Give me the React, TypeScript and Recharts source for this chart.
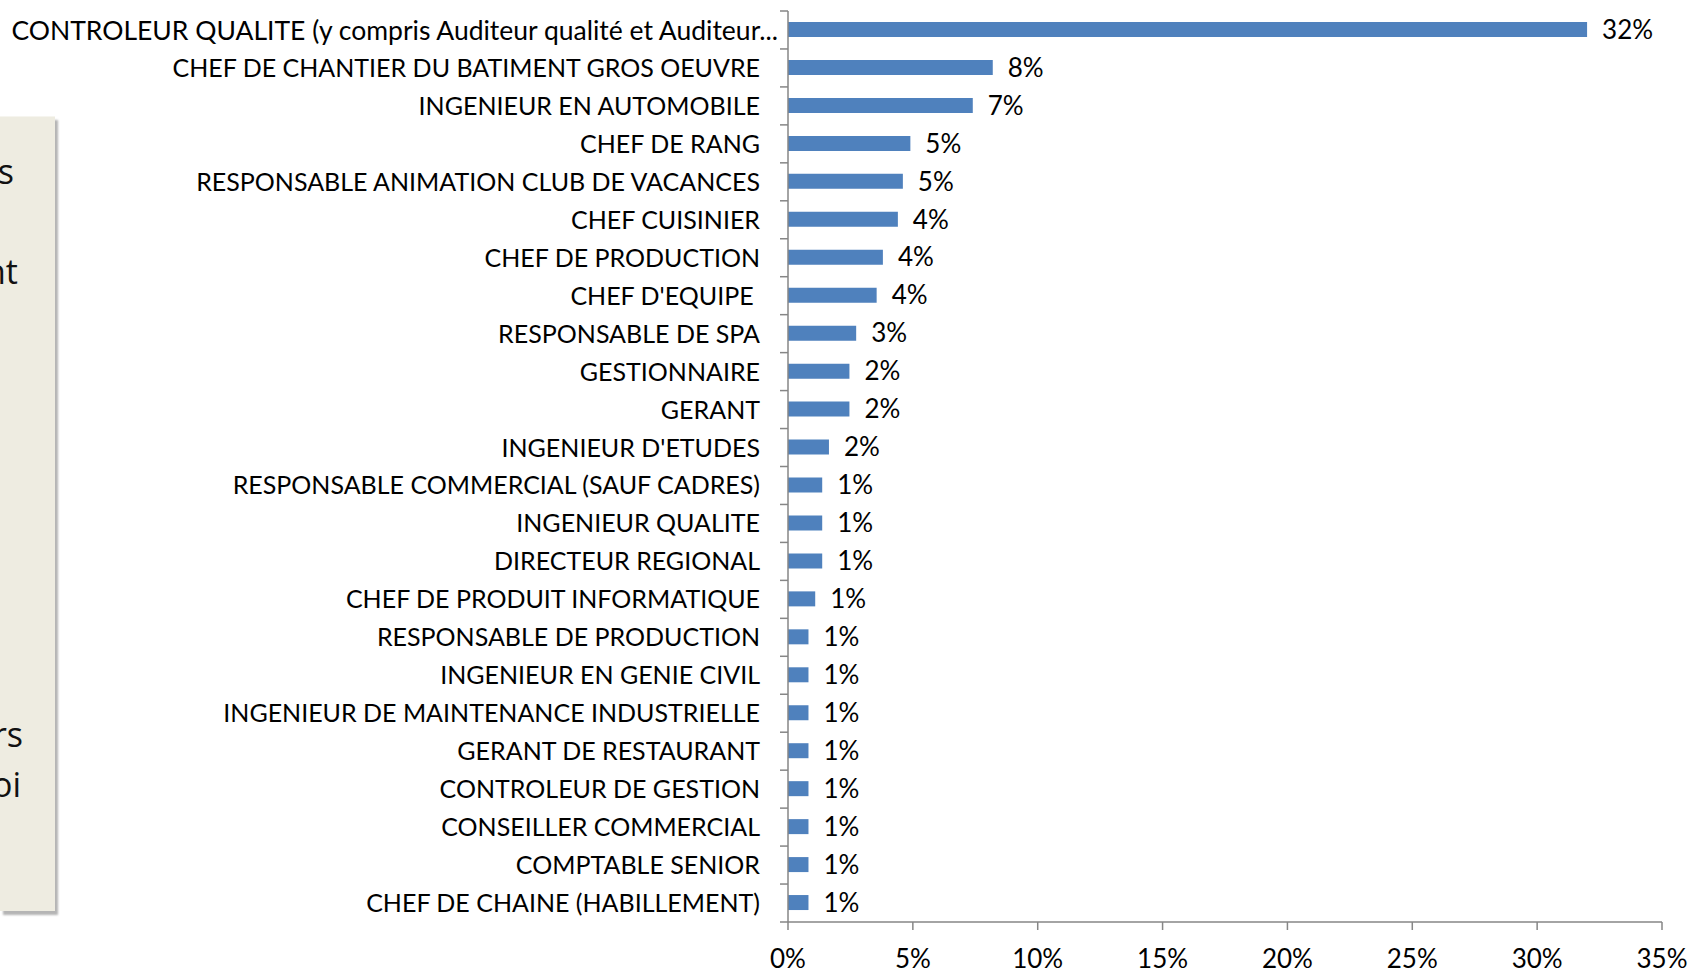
import React from "react";
import { BarChart, Bar, XAxis, YAxis, LabelList } from "recharts";

const categories = [
  "CONTROLEUR QUALITE (y compris Auditeur qualité et Auditeur...",
  "CHEF DE CHANTIER DU BATIMENT GROS OEUVRE",
  "INGENIEUR EN AUTOMOBILE",
  "CHEF DE RANG",
  "RESPONSABLE ANIMATION CLUB DE VACANCES",
  "CHEF CUISINIER",
  "CHEF DE PRODUCTION",
  "CHEF D'EQUIPE\u00A0",
  "RESPONSABLE DE SPA",
  "GESTIONNAIRE",
  "GERANT",
  "INGENIEUR D'ETUDES",
  "RESPONSABLE COMMERCIAL (SAUF CADRES)",
  "INGENIEUR QUALITE",
  "DIRECTEUR REGIONAL",
  "CHEF DE PRODUIT INFORMATIQUE",
  "RESPONSABLE DE PRODUCTION",
  "INGENIEUR EN GENIE CIVIL",
  "INGENIEUR DE MAINTENANCE INDUSTRIELLE",
  "GERANT DE RESTAURANT",
  "CONTROLEUR DE GESTION",
  "CONSEILLER COMMERCIAL",
  "COMPTABLE SENIOR",
  "CHEF DE CHAINE (HABILLEMENT)",
];

const values = [
  32.0, 8.2, 7.4, 4.9, 4.6, 4.4, 3.8, 3.55, 2.73, 2.46, 2.46, 1.64, 1.37, 1.37,
  1.37, 1.09, 0.82, 0.82, 0.82, 0.82, 0.82, 0.82, 0.82, 0.82,
];

const xTicks = [0, 5, 10, 15, 20, 25, 30, 35];

const sideNoteFragments = ["s", "nt", "rs", "oi"];
const sideNoteRight = [41, 37, 32, 34];
const sideNoteTop = [148, 248, 711, 761];

const data = categories.map((name, i) => ({ name, value: values[i] }));

const W = 1694;
const H = 972;
const M_TOP = 11;
const M_RIGHT = 32;
const X_AXIS_H = 50;
const Y_AXIS_W = 788;
const TICK_MARGIN = 28;
const STEP = (H - M_TOP - X_AXIS_H) / categories.length;
const AXIS_COLOR = "#868686";
const FONT = "Lato, 'Open Sans', sans-serif";
const FS = 26;
const CAT_FS = 25;

const YTick = (props: any) => {
  const { x, y, payload, index } = props;
  const label: string = String(payload.value);
  const truncated = label.endsWith("...");
  const axisX = x + TICK_MARGIN;
  return (
    <g>
      <text
        x={x + (truncated ? 18 : 0)}
        y={y}
        dy="0.36em"
        textAnchor="end"
        fontSize={truncated ? 26.5 : CAT_FS}
        fill="#000"
        fontFamily={FONT}
      >
        {label}
      </text>
      <line x1={axisX - 8} x2={axisX} y1={y - STEP / 2} y2={y - STEP / 2} stroke={AXIS_COLOR} strokeWidth={1.5} />
      {index === categories.length - 1 && (
        <line x1={axisX - 8} x2={axisX} y1={y + STEP / 2} y2={y + STEP / 2} stroke={AXIS_COLOR} strokeWidth={1.5} />
      )}
    </g>
  );
};

const XTick = (props: any) => {
  const { x, y, payload } = props;
  return (
    <text x={x} y={y} dy="0.36em" textAnchor="middle" fontSize={FS} fill="#000" fontFamily={FONT}>
      {`${payload.value}%`}
    </text>
  );
};

export default function App() {
  return (
    <div style={{ position: "relative", width: W, height: H, background: "#fff", fontFamily: FONT }}>
      <style>{`body{margin:0;}`}</style>
      <div
        style={{
          position: "absolute",
          left: 0,
          top: 116,
          width: 55,
          height: 794,
          background: "#EEECE1",
          boxShadow: "3px 4px 2px #b5b5b5",
          borderTop: "1px solid #f6f5ef",
          overflow: "hidden",
          fontFamily: "'Open Sans', sans-serif",
          fontSize: 34,
          color: "#111",
        }}
      >
        {sideNoteFragments.map((t, i) => (
          <div
            key={i}
            style={{
              position: "absolute",
              right: sideNoteRight[i],
              top: sideNoteTop[i] - 116,
              lineHeight: "44px",
              whiteSpace: "nowrap",
            }}
          >
            {t}
          </div>
        ))}
      </div>
      <div style={{ position: "absolute", left: 0, top: 0 }}>
        <BarChart
          width={W}
          height={H}
          data={data}
          layout="vertical"
          margin={{ top: M_TOP, right: M_RIGHT, bottom: 0, left: 0 }}
          barCategoryGap={0}
        >
          <XAxis
            type="number"
            domain={[0, 35]}
            ticks={xTicks}
            interval={0}
            height={X_AXIS_H}
            axisLine={{ stroke: AXIS_COLOR, strokeWidth: 1.5 }}
            tickLine={{ stroke: AXIS_COLOR, strokeWidth: 1.5 }}
            tickSize={8}
            tickMargin={29}
            tick={<XTick />}
          />
          <YAxis
            type="category"
            dataKey="name"
            width={Y_AXIS_W}
            interval={0}
            axisLine={{ stroke: AXIS_COLOR, strokeWidth: 1.5 }}
            tickLine={false}
            tickSize={0}
            tickMargin={TICK_MARGIN}
            tick={<YTick />}
          />
          <Bar dataKey="value" fill="#4F81BD" barSize={15} isAnimationActive={false}>
            <LabelList
              dataKey="value"
              position="right"
              offset={15}
              formatter={(v: any) => `${Math.round(Number(v))}%`}
              fill="#000"
              fontSize={FS}
              fontFamily={FONT}
            />
          </Bar>
        </BarChart>
      </div>
    </div>
  );
}
